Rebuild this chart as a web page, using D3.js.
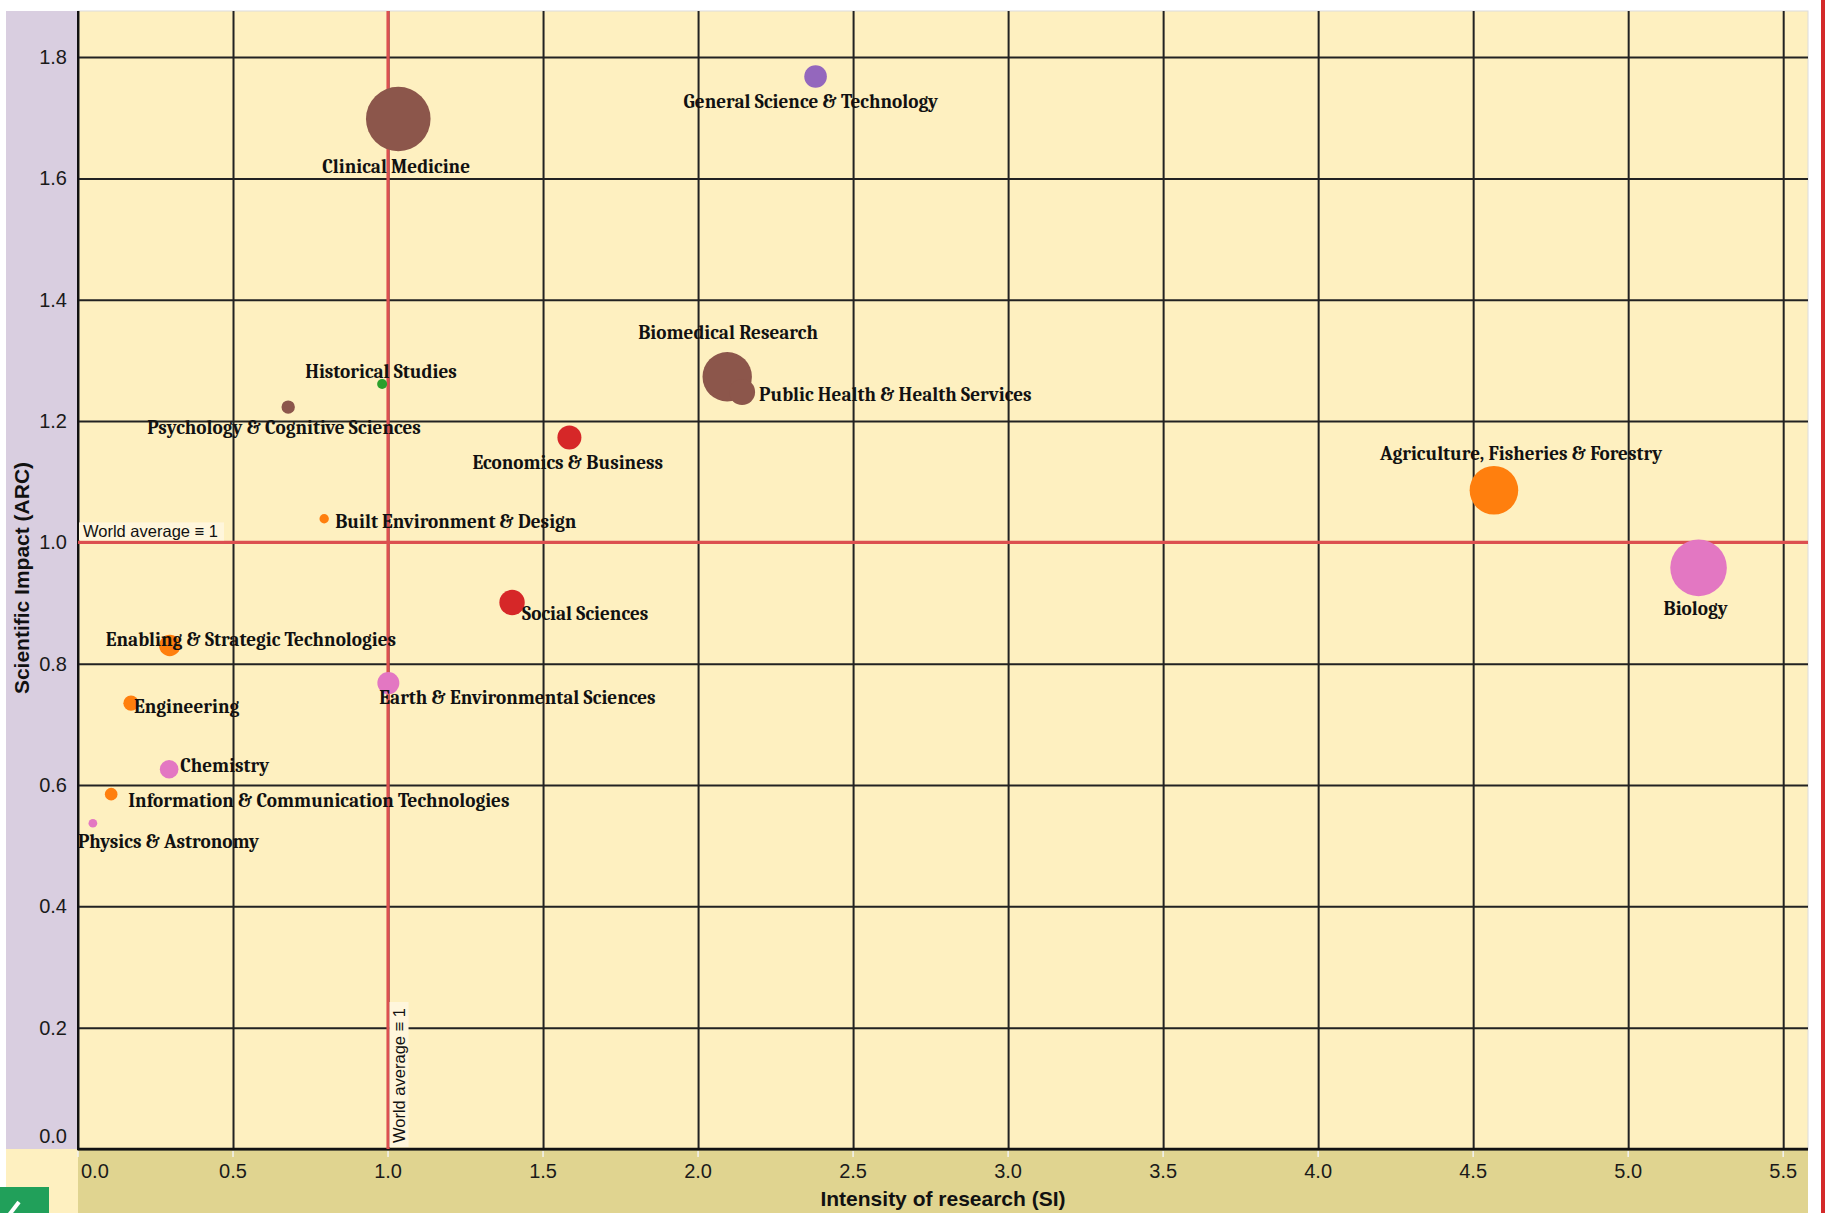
<!DOCTYPE html>
<html>
<head>
<meta charset="utf-8">
<script src="https://d3js.org/d3.v7.min.js"></script>
<style>
  body { margin: 0; background: #fff; }
  svg { display: block; }
  .tick-label { font-family: Arial, "Liberation Sans", sans-serif; font-size: 20px; fill: #1a1a1a; }
  .axis-title { font-family: Arial, "Liberation Sans", sans-serif; font-size: 21px; font-weight: bold; fill: #111; }
  .field-label { font-family: Cambria, "Liberation Serif", serif; font-size: 19.2px; font-weight: bold; fill: #111; }
  .ref-label { font-family: Arial, "Liberation Sans", sans-serif; font-size: 16.5px; fill: #111; }
</style>
</head>
<body>
<div id="chart"></div>
<script>
// fields of research, intensity (SI), impact (ARC), output volume, group
var fields = [
  "Clinical Medicine", "General Science & Technology", "Biomedical Research",
  "Public Health & Health Services", "Historical Studies", "Psychology & Cognitive Sciences",
  "Economics & Business", "Built Environment & Design", "Social Sciences",
  "Enabling & Strategic Technologies", "Earth & Environmental Sciences", "Engineering",
  "Chemistry", "Information & Communication Technologies", "Physics & Astronomy",
  "Agriculture, Fisheries & Forestry", "Biology"
];
var intensity = [1.033, 2.379, 2.094, 2.142, 0.981, 0.678, 1.585, 0.794, 1.400,
                 0.296, 1.001, 0.171, 0.294, 0.107, 0.048, 4.567, 5.227];
var impact = [1.698, 1.768, 1.273, 1.248, 1.261, 1.223, 1.173, 1.039, 0.901,
              0.830, 0.768, 0.735, 0.626, 0.585, 0.537, 1.086, 0.958];
var output = [1043, 128, 610, 169, 25, 45, 144, 22, 161,
              114, 121, 59, 87, 40, 19, 590, 800];
var groups = ["Health", "General", "Health", "Health", "Humanities", "Health",
              "Social", "Applied", "Social", "Applied", "Natural", "Applied",
              "Natural", "Applied", "Natural", "Applied", "Natural"];
var groupNames = ["Health", "General", "Humanities", "Social", "Applied", "Natural"];
var xTicks = [0, 0.5, 1, 1.5, 2, 2.5, 3, 3.5, 4, 4.5, 5, 5.5];
var yTicks = [0, 0.2, 0.4, 0.6, 0.8, 1.0, 1.2, 1.4, 1.6, 1.8];
var worldAverage = 1;

// label placement relative to bubble centre (layout only)
var labelOffsets = [
  [-76, 54], [-132, 31], [-89, -38], [17, 9], [-77, -6], [-141, 27],
  [-97, 32], [11, 9], [10, 18], [-64, 0], [-9, 21], [3, 10],
  [11, 3], [17, 13], [-15, 25], [-114, -30], [-35, 47]
];

var W = 1825, H = 1213;
var plot = { left: 78, right: 1808, top: 11, bottom: 1149 };

var svg = d3.select("#chart").append("svg").attr("width", W).attr("height", H);

var x = d3.scaleLinear().domain([0, 5.58]).range([plot.left, plot.right]);
var y = d3.scaleLinear().domain([0, 1.876]).range([plot.bottom, plot.top]);
var r = d3.scaleSqrt().domain([0, d3.max(output)]).range([0, 32.3]);
var color = d3.scaleOrdinal().domain(groupNames)
  .range(["#8c564b", "#9467bd", "#2ca02c", "#d62728", "#ff7f0e", "#e377c2"]);

// background panels
svg.append("rect").attr("x", 6).attr("y", plot.top).attr("width", plot.left - 6)
  .attr("height", plot.bottom - plot.top).attr("fill", "#d9cee0");
svg.append("rect").attr("x", 6).attr("y", plot.bottom).attr("width", plot.left - 6)
  .attr("height", H - plot.bottom).attr("fill", "#fef0c0");
svg.append("rect").attr("x", plot.left).attr("y", plot.bottom).attr("width", plot.right - plot.left)
  .attr("height", H - plot.bottom).attr("fill", "#e0d490");
svg.append("rect").attr("x", plot.left).attr("y", plot.top).attr("width", plot.right - plot.left)
  .attr("height", plot.bottom - plot.top).attr("fill", "#fef0c0")
  .attr("stroke", "#dcdcdc").attr("stroke-width", 1);
svg.append("rect").attr("x", 1821).attr("y", 0).attr("width", 4).attr("height", H).attr("fill", "#d42a2a");

// green badge in the corner
svg.append("rect").attr("x", 0).attr("y", 1187).attr("width", 49).attr("height", 26).attr("fill", "#21a05a");
svg.append("line").attr("x1", 9).attr("y1", 1215).attr("x2", 19).attr("y2", 1202)
  .attr("stroke", "#fff").attr("stroke-width", 4);

// grid
var grid = svg.append("g");
grid.append("g").attr("transform", "translate(0," + plot.bottom + ")")
  .call(d3.axisBottom(x).tickValues(xTicks).tickSize(-(plot.bottom - plot.top)).tickFormat(""))
  .call(function (g) { g.select(".domain").remove(); })
  .selectAll("line").attr("stroke", "#222").attr("stroke-width", 2);
grid.append("g").attr("transform", "translate(" + plot.left + ",0)")
  .call(d3.axisLeft(y).tickValues(yTicks).tickSize(-(plot.right - plot.left)).tickFormat(""))
  .call(function (g) { g.select(".domain").remove(); })
  .selectAll("line").attr("stroke", "#222").attr("stroke-width", 2);

// small light tick marks under the x axis
svg.append("g").selectAll("line").data(xTicks).enter().append("line")
  .attr("x1", function (d) { return x(d); }).attr("x2", function (d) { return x(d); })
  .attr("y1", plot.bottom + 2).attr("y2", plot.bottom + 8)
  .attr("stroke", "#f2f2f2").attr("stroke-width", 1.5);

// axis lines
svg.append("line").attr("x1", plot.left).attr("x2", plot.left).attr("y1", plot.top).attr("y2", plot.bottom)
  .attr("stroke", "#111").attr("stroke-width", 2);
svg.append("line").attr("x1", plot.left - 1).attr("x2", plot.right).attr("y1", plot.bottom).attr("y2", plot.bottom)
  .attr("stroke", "#111").attr("stroke-width", 2.5);

// tick labels
svg.append("g").selectAll("text").data(xTicks).enter().append("text")
  .attr("class", "tick-label")
  .attr("x", function (d, i) { return i === 0 ? x(d) + 3 : x(d); })
  .attr("y", 1178)
  .attr("text-anchor", function (d, i) { return i === 0 ? "start" : "middle"; })
  .text(d3.format(".1f"));
svg.append("g").selectAll("text").data(yTicks).enter().append("text")
  .attr("class", "tick-label")
  .attr("x", 67)
  .attr("y", function (d, i) { return i === 0 ? y(d) - 6 : y(d) + 7; })
  .attr("text-anchor", "end")
  .text(d3.format(".1f"));

// axis titles
svg.append("text").attr("class", "axis-title").attr("x", 943).attr("y", 1206)
  .attr("text-anchor", "middle").text("Intensity of research (SI)");
svg.append("text").attr("class", "axis-title")
  .attr("transform", "translate(29,578) rotate(-90)")
  .attr("text-anchor", "middle").text("Scientific Impact (ARC)");

// world average reference lines
svg.append("line").attr("x1", x(worldAverage)).attr("x2", x(worldAverage))
  .attr("y1", plot.top).attr("y2", plot.bottom).attr("stroke", "#dc5050").attr("stroke-width", 3.2);
svg.append("line").attr("x1", plot.left).attr("x2", plot.right)
  .attr("y1", y(worldAverage)).attr("y2", y(worldAverage)).attr("stroke", "#dc5050").attr("stroke-width", 3.2);

svg.append("rect").attr("x", plot.left + 1).attr("y", y(worldAverage) - 20)
  .attr("width", 145).attr("height", 18).attr("fill", "#fff6dc");
svg.append("text").attr("class", "ref-label").attr("x", plot.left + 5).attr("y", y(worldAverage) - 5)
  .text("World average \u2261 1");
svg.append("rect").attr("x", x(worldAverage) + 1.5).attr("y", plot.bottom - 147)
  .attr("width", 19).attr("height", 145).attr("fill", "#fff6dc");
svg.append("text").attr("class", "ref-label")
  .attr("transform", "translate(" + (x(worldAverage) + 17) + "," + (plot.bottom - 6) + ") rotate(-90)")
  .text("World average \u2261 1");

// bubbles
var data = fields.map(function (f, i) {
  return { field: f, si: intensity[i], arc: impact[i], size: output[i], group: groups[i],
           dx: labelOffsets[i][0], dy: labelOffsets[i][1] };
});
var sorted = data.slice().sort(function (a, b) { return b.size - a.size; });

svg.append("g").selectAll("circle").data(sorted).enter().append("circle")
  .attr("cx", function (d) { return x(d.si); })
  .attr("cy", function (d) { return y(d.arc); })
  .attr("r", function (d) { return r(d.size); })
  .attr("fill", function (d) { return color(d.group); });

svg.append("g").selectAll("text").data(data).enter().append("text")
  .attr("class", "field-label")
  .attr("x", function (d) { return x(d.si) + d.dx; })
  .attr("y", function (d) { return y(d.arc) + d.dy; })
  .text(function (d) { return d.field; });
</script>
</body>
</html>
